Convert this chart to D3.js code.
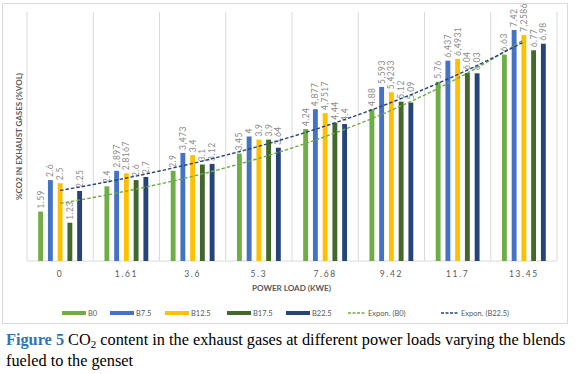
<!DOCTYPE html>
<html>
<head>
<meta charset="utf-8">
<script src="https://cdn.jsdelivr.net/npm/d3@7"></script>
<style>
  body { margin: 0; background: #fff; }
  svg text { font-family: Lato, "Open Sans", sans-serif; }
</style>
</head>
<body>
<script>
// power loads (kWe) on the x axis
var loads = ["0", "1.61", "3.6", "5.3", "7.68", "9.42", "11.7", "13.45"]
var blends = ["B0", "B7.5", "B12.5", "B17.5", "B22.5"]
var colours = ["#70AD47", "#4472C4", "#FFC000", "#43682B", "#264478"]

// %CO2 per blend, one value per load
var b0   = [1.59, 2.4, 2.9, 3.45, 4.24, 4.88, 5.76, 6.63]
var b75  = [2.6, 2.897, 3.473, 4, 4.877, 5.593, 6.437, 7.42]
var b125 = [2.5, 2.8167, 3.4, 3.9, 4.7517, 5.4233, 6.4931, 7.2586]
var b175 = [1.23, 2.6, 3.1, 3.9, 4.44, 5.12, 6.04, 6.77]
var b225 = [2.25, 2.7, 3.12, 3.64, 4.4, 5.09, 6.03, 6.98]
// labels as printed on the chart (some use a decimal comma)
var labels = [
  ["1.59", "2.4", "2.9", "3.45", "4.24", "4.88", "5.76", "6.63"],
  ["2.6", "2.897", "3,473", "4", "4,877", "5,593", "6,437", "7.42"],
  ["2.5", "2.8167", "3.4", "3.9", "4,7517", "5,4233", "6,4931", "7,2586"],
  ["1.23", "2.6", "3.1", "3.9", "4.44", "5.12", "6.04", "6.77"],
  ["2.25", "2.7", "3.12", "3.64", "4.4", "5.09", "6.03", "6.98"]
]
var series = [b0, b75, b125, b175, b225]

var width = 578, height = 374
var svg = d3.select("body").append("svg")
            .attr("width", width)
            .attr("height", height)

// chart frame
svg.append("rect")
   .attr("x", 2.5).attr("y", 3.5)
   .attr("width", 565).attr("height", 320)
   .attr("fill", "#fff")
   .attr("stroke", "#d9d9d9")

var xScale = d3.scaleBand()
               .domain(loads)
               .range([27, 557])
var xInner = d3.scaleBand()
               .domain(d3.range(blends.length))
               .range([0, xScale.bandwidth()])
               .paddingInner(0.5)
               .paddingOuter(1.15)
var yScale = d3.scaleLinear()
               .domain([0, 8])
               .range([261, 12])

// vertical gridlines between categories
var edges = loads.map(function(d){ return xScale(d) })
edges.push(557)
svg.selectAll(".grid")
   .data(edges)
   .enter()
   .append("line")
   .attr("x1", function(d){ return d }).attr("x2", function(d){ return d })
   .attr("y1", yScale(8)).attr("y2", yScale(0))
   .attr("stroke", "#d9d9d9")
   .attr("stroke-width", 1)

svg.append("line")
   .attr("x1", 27).attr("x2", 557)
   .attr("y1", yScale(0)).attr("y2", yScale(0))
   .attr("stroke", "#d9d9d9")

// bars + rotated value labels
series.forEach(function(vals, s){
  var g = svg.append("g")
  g.selectAll("rect")
   .data(vals)
   .enter()
   .append("rect")
   .attr("x", function(d, i){ return xScale(loads[i]) + xInner(s) })
   .attr("y", function(d){ return yScale(d) })
   .attr("width", xInner.bandwidth())
   .attr("height", function(d){ return yScale(0) - yScale(d) })
   .attr("fill", colours[s])

  g.selectAll("text")
   .data(vals)
   .enter()
   .append("text")
   .attr("transform", function(d, i){
     var x = xScale(loads[i]) + xInner(s) + xInner.bandwidth() / 2
     return "translate(" + x + "," + (yScale(d) - 3) + ") rotate(-90)"
   })
   .attr("dominant-baseline", "central")
   .style("font-size", "8.5px")
   .style("letter-spacing", "0.4px")
   .attr("fill", "#8c8c8c")
   .text(function(d, i){ return labels[s][i] })
})

// exponential trendlines (least squares on ln y, x = 1..n like excel)
var expFit = function(vals){
  var xs = vals.map(function(d, i){ return i + 1 })
  var ly = vals.map(function(d){ return Math.log(d) })
  var mx = d3.mean(xs), my = d3.mean(ly)
  var sxy = d3.sum(xs, function(x, i){ return (x - mx) * (ly[i] - my) })
  var sxx = d3.sum(xs, function(x){ return (x - mx) * (x - mx) })
  var b = sxy / sxx
  var a = Math.exp(my - b * mx)
  return function(x){ return a * Math.exp(b * x) }
}
var firstX = xScale(loads[0]) + xScale.bandwidth() / 2
var step = xScale.step()
var trends = [[b0, "#70AD47"], [b225, "#264478"]]
trends.forEach(function(t){
  var f = expFit(t[0])
  var pts = d3.range(1, loads.length + 0.001, 0.1)
  var line = d3.line()
               .x(function(x){ return firstX + (x - 1) * step })
               .y(function(x){ return yScale(f(x)) })
  svg.append("path")
     .datum(pts)
     .attr("d", line)
     .attr("fill", "none")
     .attr("stroke", t[1])
     .attr("stroke-width", 1.4)
     .attr("stroke-dasharray", "3.5,2")
})

// category labels
svg.selectAll(".cat")
   .data(loads)
   .enter()
   .append("text")
   .attr("x", function(d){ return xScale(d) + xScale.bandwidth() / 2 })
   .attr("y", 277)
   .attr("text-anchor", "middle")
   .style("font-size", "8.5px")
   .style("letter-spacing", "1.6px")
   .attr("fill", "#595959")
   .text(function(d){ return d })

// axis titles
svg.append("text")
   .attr("x", 252).attr("y", 291)
   .attr("textLength", 79)
   .attr("lengthAdjust", "spacingAndGlyphs")
   .style("font-size", "8px")
   .style("font-weight", "bold")
   .attr("fill", "#595959")
   .text("POWER LOAD (KWE)")

svg.append("text")
   .attr("transform", "translate(22,200) rotate(-90)")
   .attr("textLength", 127)
   .attr("lengthAdjust", "spacingAndGlyphs")
   .style("font-size", "8px")
   .style("font-weight", "bold")
   .attr("fill", "#595959")
   .text("%CO2 IN EXHAUST GASES (%VOL)")

// legend
var legItems = [
  {name: "B0", x: 62, c: colours[0], dash: false},
  {name: "B7.5", x: 110, c: colours[1], dash: false},
  {name: "B12.5", x: 165, c: colours[2], dash: false},
  {name: "B17.5", x: 227, c: colours[3], dash: false},
  {name: "B22.5", x: 286, c: colours[4], dash: false},
  {name: "Expon. (B0)", x: 348, c: "#70AD47", dash: true},
  {name: "Expon. (B22.5)", x: 441, c: "#264478", dash: true}
]
var leg = svg.selectAll(".legend")
             .data(legItems)
             .enter()
             .append("g")
             .attr("transform", function(d){ return "translate(" + d.x + ",313)" })
leg.append("line")
   .attr("x1", 0)
   .attr("x2", function(d){ return d.dash ? 18 : 24 })
   .attr("stroke", function(d){ return d.c })
   .attr("stroke-width", function(d){ return d.dash ? 1.3 : 4 })
   .attr("stroke-dasharray", function(d){ return d.dash ? "3,1.5" : null })
leg.append("text")
   .attr("x", function(d){ return d.dash ? 20 : 26 })
   .attr("dominant-baseline", "central")
   .style("font-size", "7.5px")
   .attr("fill", "#595959")
   .text(function(d){ return d.name })

// caption
var cap = svg.append("g")
             .style("font-size", "16.3px")
var l1 = cap.append("text").attr("x", 6).attr("y", 345)
             .style("font-family", "'Liberation Serif', serif")
l1.append("tspan").attr("fill", "#2E75B6").style("font-weight", "bold").text("Figure 5")
l1.append("tspan").attr("fill", "#000").text(" CO")
l1.append("tspan").attr("fill", "#000").attr("dy", 3).style("font-size", "11px").text("2")
l1.append("tspan").attr("fill", "#000").attr("dy", -3).text(" content in the exhaust gases at different power loads varying the blends")
cap.append("text").attr("x", 6).attr("y", 366)
   .style("font-family", "'Liberation Serif', serif")
   .attr("fill", "#000")
   .text("fueled to the genset")
</script>
</body>
</html>
